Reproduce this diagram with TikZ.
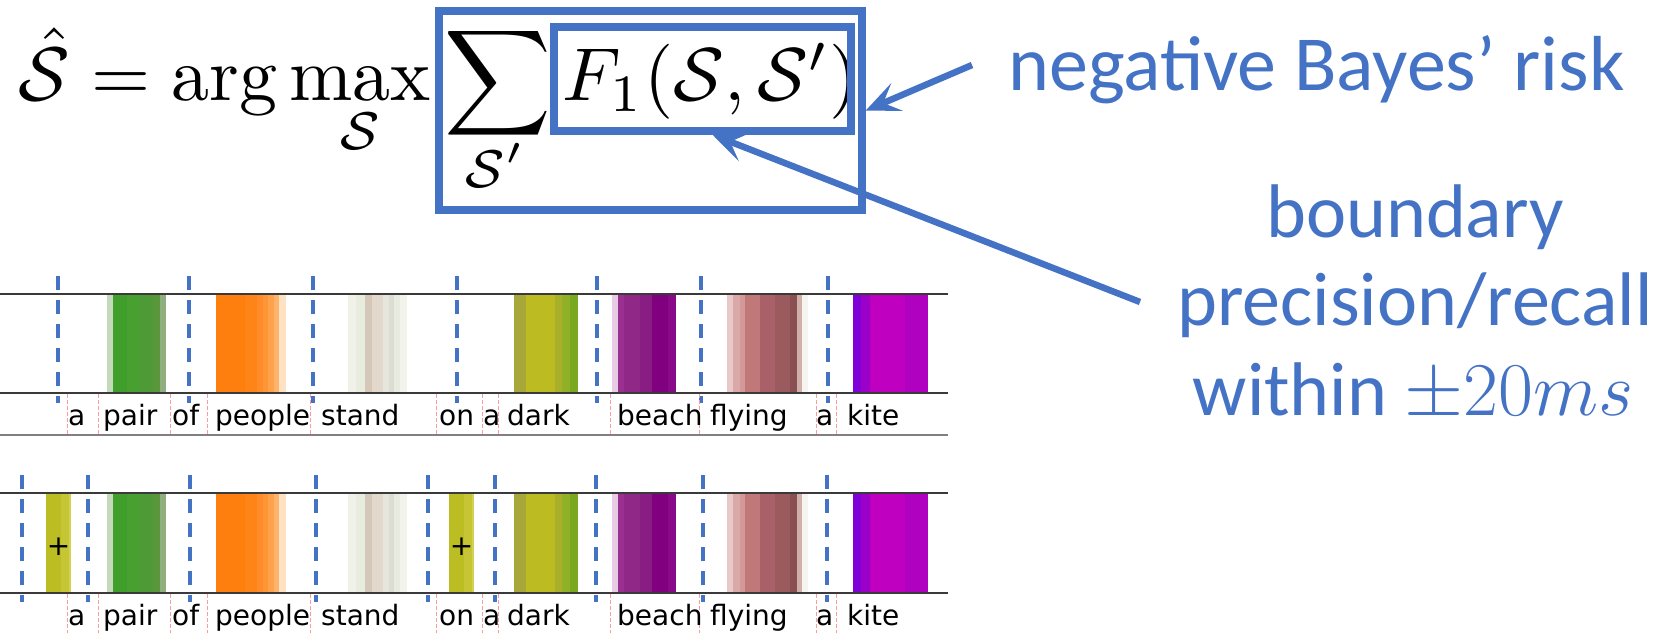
\RequirePackage{fix-cm}
\documentclass[tikz,border=0pt]{standalone}
\usepackage{fontspec}
\newfontfamily\calib{Carlito}
\newfontfamily\dvsans{DejaVu Sans}
\usetikzlibrary{arrows.meta,calc}
\definecolor{pblue}{HTML}{4472C4}
\definecolor{stripline}{HTML}{3A3A3A}
\definecolor{redb}{HTML}{FF9A9A}
\newcommand\clrbar[3]{\definecolor{tmpc}{HTML}{#3}\fill[tmpc] (#1,\barTop) rectangle (#2,\barBot);}
\newcommand\allbars{%
 % green (pair)
 \clrbar{107}{113}{C3DABB}\clrbar{113}{127}{3F9F2A}\clrbar{127}{140}{47A02F}\clrbar{140}{153}{4E9A36}\clrbar{153}{160}{5A963C}\clrbar{160}{166}{8FAF7F}%
 % orange (people)
 \clrbar{216}{245}{FF7F0E}\clrbar{245}{257}{FF8418}\clrbar{257}{263}{FF8C28}\clrbar{263}{268}{FF9636}\clrbar{268}{274}{FFA24C}\clrbar{274}{279}{FFB46E}\clrbar{279}{286}{FFE2C4}%
 % stand
 \clrbar{348}{356}{F0F2EA}\clrbar{356}{365}{E8ECDF}\clrbar{365}{372}{D5C8B8}\clrbar{372}{383}{E2D8CC}\clrbar{383}{389}{E6E6DC}\clrbar{389}{394}{DCDCD4}\clrbar{394}{400}{E8ECE0}\clrbar{400}{407}{F2F4EC}%
 % dark
 \clrbar{514}{526}{A8A83A}\clrbar{526}{555}{BCBC22}\clrbar{555}{562}{A8B02A}\clrbar{562}{570}{90B028}\clrbar{570}{578}{7AA820}%
 % beach
 \clrbar{612}{618}{E8CCE6}\clrbar{618}{624}{9A3090}\clrbar{624}{640}{902888}\clrbar{640}{652}{881E84}\clrbar{652}{668}{800080}\clrbar{668}{676}{880A88}%
 % flying
 \clrbar{727}{733}{E8C8C8}\clrbar{733}{740}{DBA8A8}\clrbar{740}{745}{D49898}\clrbar{745}{760}{C07878}\clrbar{760}{775}{AA6068}\clrbar{775}{790}{9A5A5E}\clrbar{790}{797}{885050}\clrbar{797}{802}{D0B0A8}\clrbar{802}{808}{F6F4F0}%
 % kite
 \clrbar{853}{861}{8000D8}\clrbar{861}{870}{9A00C8}\clrbar{870}{905}{C000C0}\clrbar{905}{928}{B000C0}%
}
\begin{document}
\begin{tikzpicture}[x=1pt,y=-1pt,
  mathtxt/.style={inner sep=0pt, anchor=base west},
  bluetxt/.style={inner sep=0pt, text=pblue, font=\calib\fontsize{76}{89}\selectfont},
  boxline/.style={draw=pblue, line width=7.5pt, inner sep=0pt},
  callout/.style={draw=pblue, line width=6.5pt, -{Stealth[length=34pt,width=30pt,inset=15pt]}},
  word/.style={inner sep=0pt, anchor=base west, font=\dvsans\fontsize{28}{30}\selectfont},
  plusmark/.style={inner sep=0pt, font=\dvsans\fontsize{28}{30}\selectfont},
  bdash/.style={draw=pblue, line width=3.2pt, dash pattern=on 13.5pt off 10.5pt},
  rdash/.style={draw=redb, line width=1pt, dash pattern=on 4pt off 2pt},
  hline/.style={draw=stripline, line width=2pt}]
\useasboundingbox (0,0) rectangle (1665,633);

% ---------- formula ----------
\node[mathtxt] (lhs) at (18,100) {\scalebox{7.6}{$\displaystyle\hat{\mathcal S}=\arg\max_{\mathcal S}$}};
\node[inner sep=0pt, anchor=north west] (sum) at (444,24) {\scalebox{7.4}{$\displaystyle\sum$}};
\node[mathtxt] (sumsub) at (464,187) {\scalebox{7.6}{$\scriptstyle\mathcal S'$}};
\node[mathtxt] (fone) at (562,100) {\scalebox{7.5}{$F_1(\mathcal S,\mathcal S')$}};
\node[boxline, minimum width=423pt, minimum height=199pt] (outer) at (650.5,110.5) {};
\node[boxline, minimum width=297pt, minimum height=104pt] (inner) at (702.5,79) {};

% ---------- labels ----------
\node[bluetxt, anchor=base west, font=\calib\fontsize{78}{89}\selectfont] (bayes) at (1008,90) {negative Bayes’ risk};
\node[bluetxt, anchor=base] (bl1) at (1415,237) {boundary};
\node[bluetxt, anchor=base] (bl2) at (1415,325) {precision/recall};
\node[bluetxt, anchor=base] (bl3) at (1413,415) {within $\pm 20ms$};

\coordinate (tailA) at (972,65);
\coordinate (tailB) at (1140,302);
\draw[callout] (tailA) -- (outer.east);
\draw[callout] (tailB) -- ([xshift=10pt]inner.south);

% ---------- strip 1 ----------
\def\barTop{294}\def\barBot{393}
\allbars
\draw[hline] (0,294) -- (948,294);
\draw[hline] (0,393) -- (948,393);
\draw[hline, draw=gray] (0,435) -- (948,435);
\foreach \x in {58,189,313,457,597,701,828}
  \draw[bdash] (\x,276) -- (\x,403);
\foreach \x in {67,98,170,207,310,436,482,498,610,699,816,836}
  \draw[rdash] (\x,394) -- (\x,435);

% ---------- strip 2 ----------
\def\barTop{493}\def\barBot{593}
\allbars
\clrbar{46}{61}{BCBD22}\clrbar{61}{69}{C5C535}\clrbar{69}{71}{D2D250}
\clrbar{449}{464}{BCBD22}\clrbar{464}{472}{C5C535}\clrbar{472}{474}{D2D250}
\draw[hline] (0,493) -- (948,493);
\draw[hline] (0,593) -- (948,593);
\foreach \x in {22,88,190,316,428,495,596,703,827}
  \draw[bdash] (\x,475) -- (\x,602);
\foreach \x in {67,98,170,207,310,436,482,498,610,699,816,836}
  \draw[rdash] (\x,594) -- (\x,633);
\node[plusmark] (plusA) at (58.5,547) {+};
\node[plusmark] (plusB) at (461.5,547) {+};

% ---------- words ----------
\foreach \x/\w [count=\i] in {68/a,103/pair,172/of,215/people,321/stand,439/on,483/a,507/dark,617/beach,710/flying,816/a,847/kite}{
  \node[word] (wa\i) at (\x,425) {\w};
  \node[word] (wb\i) at (\x,625) {\w};
}
\end{tikzpicture}
\end{document}
